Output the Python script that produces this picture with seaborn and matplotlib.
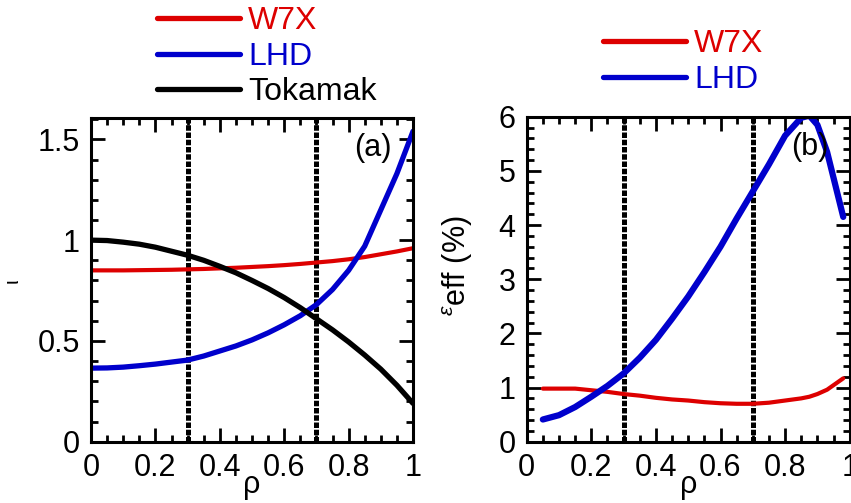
import numpy as np
import pandas as pd
import matplotlib
matplotlib.use("Agg")
import matplotlib.pyplot as plt
from matplotlib.ticker import MultipleLocator
import seaborn as sns

# ---------------- data ----------------
rho_a = [0.0, 0.05, 0.1, 0.15, 0.2, 0.25, 0.3, 0.35, 0.4, 0.45, 0.5,
         0.55, 0.6, 0.65, 0.7, 0.75, 0.8, 0.85, 0.9, 0.95, 1.0]
iota_w7x = [0.85, 0.85, 0.85, 0.851, 0.852, 0.853, 0.855, 0.857, 0.86, 0.863, 0.867,
            0.871, 0.876, 0.882, 0.889, 0.896, 0.905, 0.916, 0.93, 0.944, 0.96]
iota_lhd = [0.365, 0.366, 0.37, 0.377, 0.385, 0.395, 0.405, 0.425, 0.45, 0.475, 0.505,
            0.54, 0.58, 0.625, 0.68, 0.755, 0.85, 0.97, 1.15, 1.33, 1.54]
iota_tok = [1.0, 0.998, 0.99, 0.98, 0.965, 0.945, 0.925, 0.90, 0.87, 0.838, 0.80,
            0.76, 0.715, 0.665, 0.61, 0.555, 0.495, 0.43, 0.36, 0.28, 0.19]

rho_b = [0.05, 0.1, 0.15, 0.2, 0.25, 0.3, 0.35, 0.4, 0.45, 0.5, 0.55, 0.6,
         0.65, 0.7, 0.75, 0.8, 0.85, 0.875, 0.9, 0.93, 0.98]
eps_lhd = [0.41, 0.49, 0.64, 0.83, 1.03, 1.26, 1.55, 1.88, 2.27, 2.68, 3.13, 3.6,
           4.12, 4.62, 5.12, 5.65, 5.98, 6.02, 5.85, 5.35, 4.15]
eps_w7x = [0.98, 0.98, 0.98, 0.95, 0.92, 0.88, 0.85, 0.81, 0.78, 0.76, 0.73, 0.71,
           0.70, 0.70, 0.72, 0.76, 0.80, 0.83, 0.88, 0.96, 1.17]

guide_rho = [0.3, 0.7]
x_ticks = [0, 0.2, 0.4, 0.6, 0.8, 1]
x_ticklabels = ["0", "0.2", "0.4", "0.6", "0.8", "1"]
ya_ticks = [0, 0.5, 1, 1.5]
ya_ticklabels = ["0", "0.5", "1", "1.5"]
yb_ticks = [0, 1, 2, 3, 4, 5, 6]
yb_ticklabels = ["0", "1", "2", "3", "4", "5", "6"]

RED = "#DD0000"
BLUE = "#0000CC"
BLACK = "#000000"

sns.set_style("ticks")
plt.rcParams["font.family"] = ["Liberation Sans", "DejaVu Sans"]
plt.rcParams["mathtext.fontset"] = "custom"
plt.rcParams["mathtext.rm"] = "Liberation Sans"
plt.rcParams["mathtext.it"] = "Liberation Sans:italic"
plt.rcParams["text.color"] = "black"
plt.rcParams["axes.labelcolor"] = "black"
FS = 22

fig = plt.figure(figsize=(8.51, 5.03), dpi=100)
ax1 = fig.add_axes([91 / 851, 1 - 441.7 / 503, 322 / 851, 323.7 / 503])
ax2 = fig.add_axes([526.7 / 851, 1 - 441.7 / 503, 323 / 851, 325 / 503])

df_a = pd.DataFrame({"rho": rho_a, "W7X": iota_w7x, "LHD": iota_lhd, "Tokamak": iota_tok})
df_b = pd.DataFrame({"rho": rho_b, "W7X": eps_w7x, "LHD": eps_lhd})

sns.lineplot(data=df_a, x="rho", y="W7X", ax=ax1, color=RED, lw=3.0, label="W7X")
sns.lineplot(data=df_a, x="rho", y="LHD", ax=ax1, color=BLUE, lw=3.8, label="LHD")
sns.lineplot(data=df_a, x="rho", y="Tokamak", ax=ax1, color=BLACK, lw=3.8, label="Tokamak")

sns.lineplot(data=df_b, x="rho", y="W7X", ax=ax2, color=RED, lw=3.0, label="W7X")
sns.lineplot(data=df_b, x="rho", y="LHD", ax=ax2, color=BLUE, lw=4.5, label="LHD")

for ax in (ax1, ax2):
    for g in guide_rho:
        ax.axvline(g, color="black", lw=3.6, linestyle=(0, (1.1, 0.35)), zorder=1)
    ax.set_xlim(0, 1)
    ax.set_xticks(x_ticks)
    ax.set_xticklabels(x_ticklabels)
    ax.xaxis.set_minor_locator(MultipleLocator(0.05))
    ax.tick_params(which="both", direction="in", top=True, right=True, width=2,
                   labelsize=FS, colors="black")
    ax.tick_params(which="major", length=10, pad=8)
    ax.tick_params(which="minor", length=5)
    for s in ax.spines.values():
        s.set_linewidth(2.2)
        s.set_color("black")
    ax.set_xlabel("ρ", fontsize=FS, labelpad=-9)

ax1.set_ylim(0, 1.606)
ax1.set_yticks(ya_ticks)
ax1.set_yticklabels(ya_ticklabels)
ax1.yaxis.set_minor_locator(MultipleLocator(0.1))
ax1.set_ylabel("ι", fontsize=15)
ax1.yaxis.set_label_coords(-0.215, 0.496)
ax1.text(0.876, 1.457, "(a)", fontsize=FS, ha="center", va="center", color="black")

ax2.set_ylim(0, 6)
ax2.set_yticks(yb_ticks)
ax2.set_yticklabels(yb_ticklabels)
ax2.yaxis.set_minor_locator(MultipleLocator(0.2))
ax2.set_ylabel(r"$^{\varepsilon}$eff (%)", fontsize=FS)
ax2.yaxis.set_label_coords(-0.16, 0.54)
ax2.text(0.877, 5.44, "(b)", fontsize=FS, ha="center", va="center", color="black")

leg_kw = dict(frameon=False, fontsize=23, labelcolor="linecolor", handlelength=2.6,
              handletextpad=0.25, labelspacing=0.18, borderpad=0, borderaxespad=0,
              loc="upper left")
l1 = ax1.legend(bbox_to_anchor=(157 / 851, 1 - 6 / 503), bbox_transform=fig.transFigure, **leg_kw)
l2 = ax2.legend(bbox_to_anchor=(603 / 851, 1 - 29 / 503), bbox_transform=fig.transFigure, **leg_kw)
for leg in (l1, l2):
    for h in leg.get_lines():
        h.set_linewidth(3.8)

fig.savefig("out.png", dpi=100)
